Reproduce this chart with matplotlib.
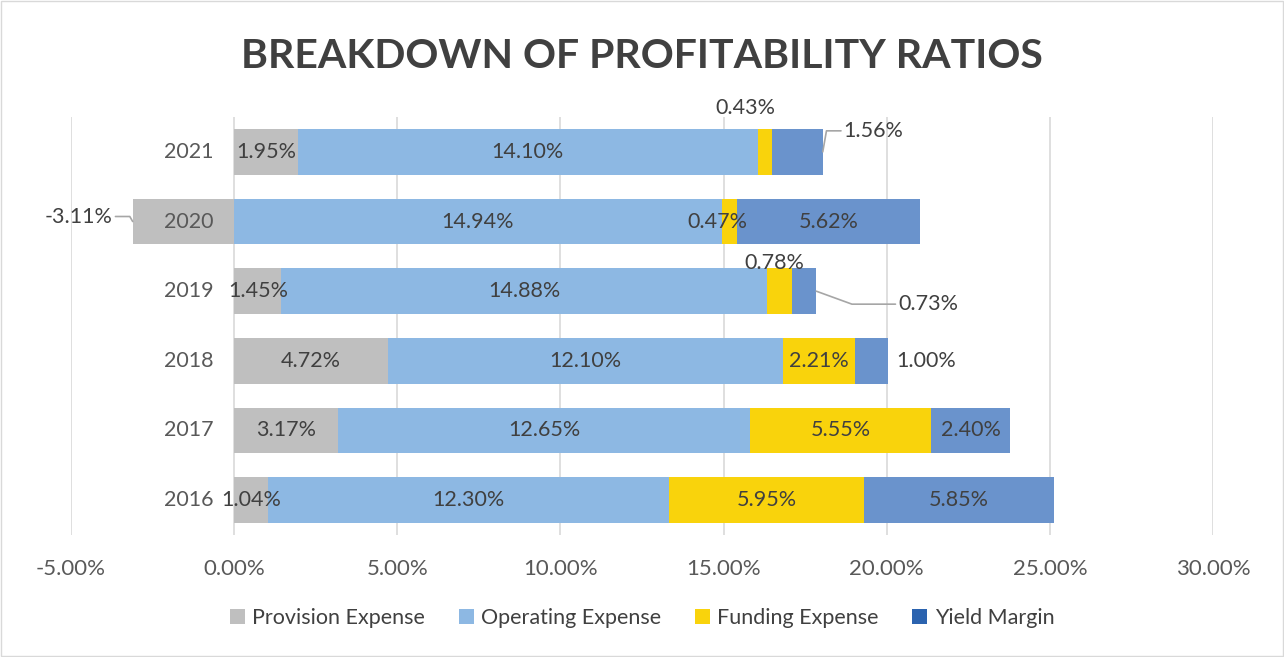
import matplotlib
matplotlib.use("Agg")
import matplotlib.pyplot as plt
from matplotlib.patches import Patch, Rectangle
import numpy as np

years = ["2021", "2020", "2019", "2018", "2017", "2016"]
provision = [1.95, -3.11, 1.45, 4.72, 3.17, 1.04]
operating = [14.10, 14.94, 14.88, 12.10, 12.65, 12.30]
funding = [0.43, 0.47, 0.78, 2.21, 5.55, 5.95]
yield_margin = [1.56, 5.62, 0.73, 1.00, 2.40, 5.85]
series_names = ["Provision Expense", "Operating Expense", "Funding Expense", "Yield Margin"]
x_ticks = [-5, 0, 5, 10, 15, 20, 25, 30]

colors = ["#BFBFBF", "#8DB8E3", "#F9D30C", "#6A93CC"]
legend_colors = ["#BFBFBF", "#8DB8E3", "#F9D30C", "#2B63AF"]
txt = "#404040"
font = "Lato"
plt.rcParams["font.family"] = [font, "DejaVu Sans"]
lab_fs = 15.5
tick_fs = 15.5

fig = plt.figure(figsize=(12.84, 6.57), dpi=100)
ax = fig.add_axes([71/1284, 1-535/657, (1213-71)/1284, (535-117)/657])

n = len(years)
ypos = np.arange(n)[::-1]  # 2021 at top
h = 0.66

prov = np.array(provision)
op_left = np.maximum(prov, 0)
fund_left = op_left + np.array(operating)
yld_left = fund_left + np.array(funding)

lefts = [np.zeros(n), op_left, fund_left, yld_left]
vals = [prov, np.array(operating), np.array(funding), np.array(yield_margin)]

for k in range(4):
    ax.barh(ypos, vals[k], left=lefts[k], height=h, color=colors[k], zorder=3)

ax.set_xlim(-5, 30)
ax.set_ylim(-0.5, n - 0.5)
ax.set_xticks(x_ticks)
ax.set_xticklabels([f"{t:.2f}%" for t in x_ticks], fontsize=16, color="#595959")
ax.tick_params(axis="x", length=0, pad=17)
ax.set_yticks([])
ax.grid(axis="x", color="#D9D9D9", linewidth=1.2, zorder=0)
for s in ax.spines.values():
    s.set_visible(False)

# year labels near the zero axis
for i, y in enumerate(ypos):
    ax.annotate(years[i], xy=(0, y), xytext=(-15, 0), textcoords="offset points",
                ha="right", va="center", fontsize=tick_fs, color="#595959", zorder=6)

px = 72 / 100  # pixels to points
lead = dict(arrowstyle="-", color="#A6A6A6", lw=1.2, shrinkA=0, shrinkB=0)

# special label placement (year index, series index) -> (dx px, dy px, ha, leader)
special = {
    (0, 2): (-19, 44, "center", None),
    (0, 3): (21, 21, "left", "angle,angleA=0,angleB=80,rad=0"),
    (1, 0): (-20, 5, "right", "angle,angleA=0,angleB=-60,rad=0"),
    (1, 2): (-12, 0, "center", None),
    (2, 2): (-5, 28, "center", None),
    (2, 3): (82, -13, "left", "angle,angleA=0,angleB=-20,rad=0"),
    (3, 3): (9, 0, "left", None),
}

for i, y in enumerate(ypos):
    for k in range(4):
        v = vals[k][i]
        left = lefts[k][i]
        label = f"{v:.2f}%"
        key = (i, k)
        if key in special:
            dx, dy, ha, conn = special[key]
            if k == 3 and ha == "left":
                anchor = (left + v, y)
            elif k == 0 and v < 0:
                anchor = (v, y)
            else:
                anchor = (left + v / 2, y)
            kw = dict(xy=anchor, xytext=(dx * px, dy * px), textcoords="offset points",
                      ha=ha, va="center", fontsize=lab_fs, color=txt, zorder=5)
            if conn:
                ap = dict(lead)
                ap["connectionstyle"] = conn
                ap["relpos"] = (0, 0.5) if ha == "left" else (1, 0.5)
                kw["arrowprops"] = ap
            ax.annotate(label, **kw)
        else:
            ax.text(left + v / 2, y, label, ha="center", va="center", fontsize=lab_fs,
                    color=txt, zorder=5)

fig.text(0.5, 1 - 57/657, "BREAKDOWN OF PROFITABILITY RATIOS", ha="center", va="center",
         fontsize=29.5, fontweight="bold", color=txt)

handles = [Patch(facecolor=c, edgecolor="none") for c in legend_colors]
fig.legend(handles, series_names, loc="center", bbox_to_anchor=(0.5, 1 - 618/657), ncol=4,
           frameon=False, fontsize=15.5, handlelength=0.7, handleheight=0.7,
           handletextpad=0.35, columnspacing=1.55, labelcolor=txt)

fig.patches.append(Rectangle((0.001, 0.001), 0.998, 0.998, transform=fig.transFigure,
                             fill=False, edgecolor="#D9D9D9", linewidth=1))

fig.savefig("out.png", dpi=100)
